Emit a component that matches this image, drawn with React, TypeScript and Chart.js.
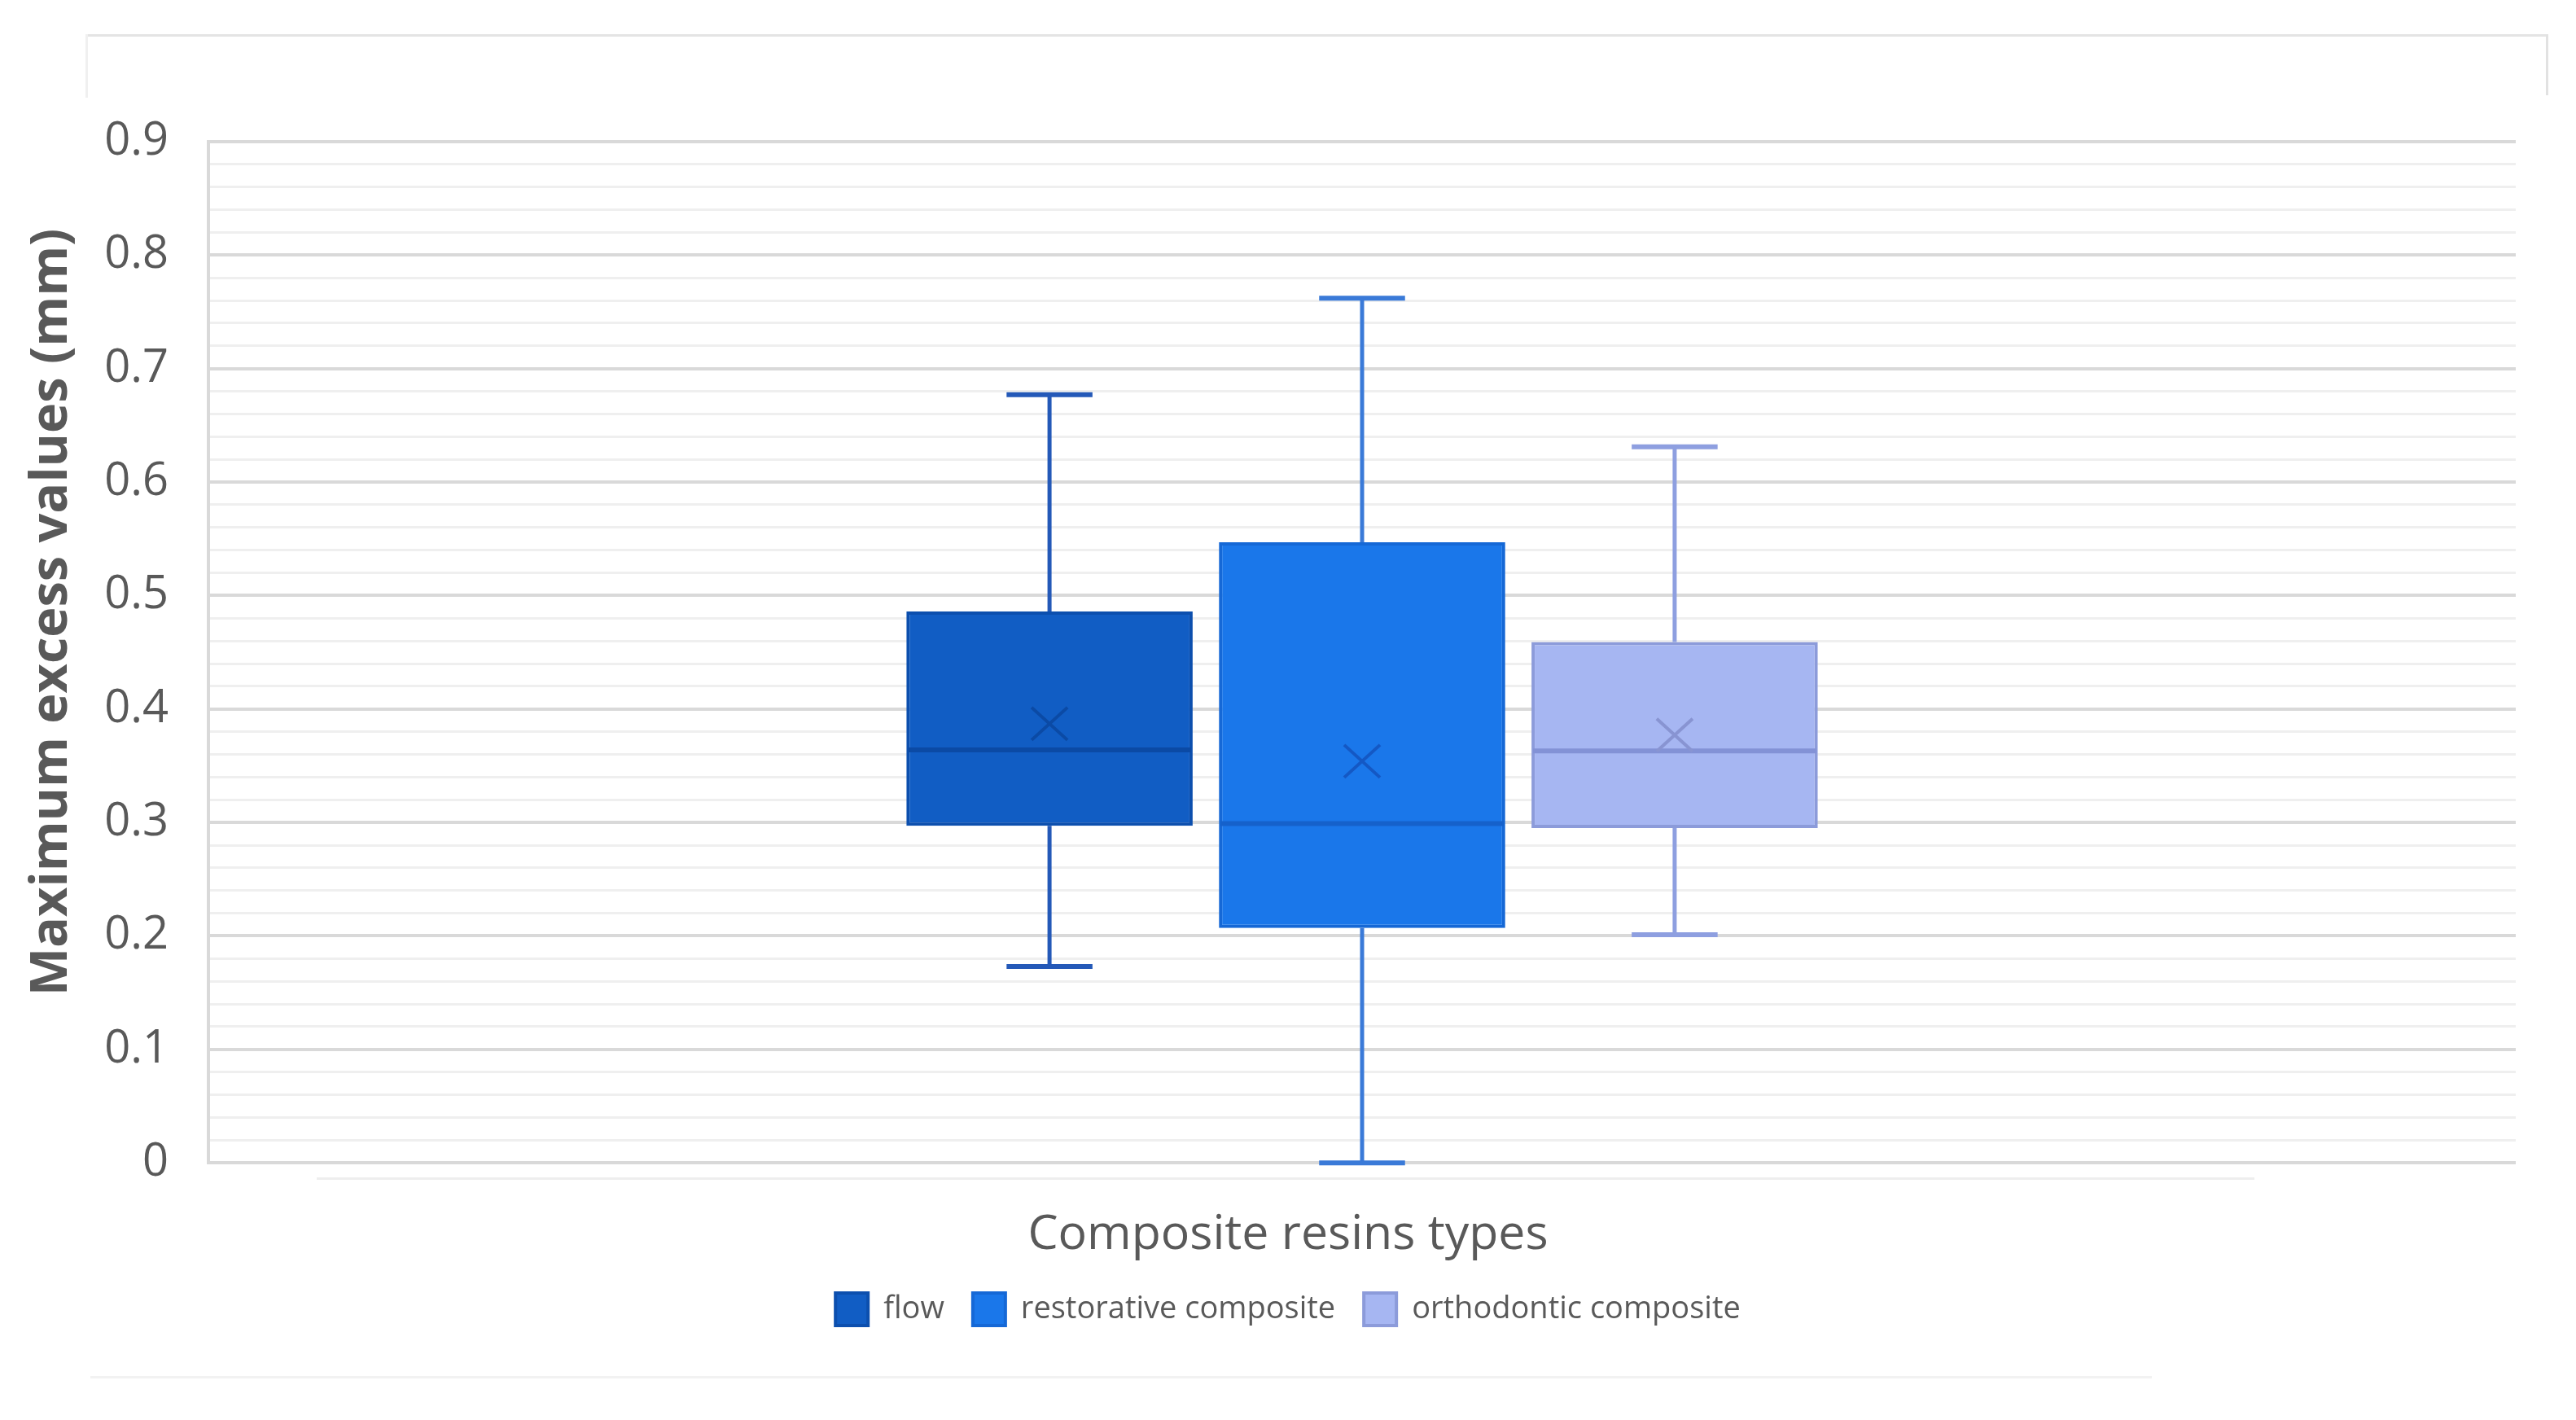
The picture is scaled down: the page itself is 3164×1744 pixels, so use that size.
import React, { useEffect, useRef } from 'react';
import { Chart, registerables } from 'chart.js';

Chart.register(...registerables);

// ---- data ----
const categories = ['flow', 'restorative composite', 'orthodontic composite'];
const minValues = [0.173, 0.0, 0.201];
const q1Values = [0.297, 0.207, 0.295];
const medianValues = [0.364, 0.299, 0.363];
const q3Values = [0.486, 0.547, 0.459];
const maxValues = [0.677, 0.762, 0.631];
const meanValues = [0.387, 0.354, 0.377];
const groupLabels = [''];
const yTickLabels = ['0', '0.1', '0.2', '0.3', '0.4', '0.5', '0.6', '0.7', '0.8', '0.9'];
const yAxisTitle = 'Maximum excess values (mm)';
const xAxisTitle = 'Composite resins types';

// ---- styles ----
const fillColors = ['#115DC4', '#1A77EA', '#A6B6F2'];
const borderColors = ['#0C4FAE', '#1568D6', '#8C9BDA'];
const medianColors = ['#0B4AA5', '#1561CB', '#8392D6'];
const whiskerColors = ['#2459B8', '#3A7AD8', '#8E9FE0'];
const meanColors = ['#0B4AA5', '#1458C4', '#8894D2'];
const textColor = '#595959';

const isMajor = (v: number) => Math.abs(v * 10 - Math.round(v * 10)) < 1e-6;

const boxPlugin = {
  id: 'boxWhiskers',
  afterDatasetsDraw(chart: any) {
    const ctx = chart.ctx;
    const y = chart.scales.y;
    chart.data.datasets.forEach((_ds: any, i: number) => {
      const meta = chart.getDatasetMeta(i);
      const bar = meta.data[0];
      if (!bar) return;
      const { x, width } = bar.getProps(['x', 'width'], true);
      const capW = width * 0.3;
      const yMin = y.getPixelForValue(minValues[i]);
      const yQ1 = y.getPixelForValue(q1Values[i]);
      const yMed = y.getPixelForValue(medianValues[i]);
      const yQ3 = y.getPixelForValue(q3Values[i]);
      const yMax = y.getPixelForValue(maxValues[i]);
      const yMean = y.getPixelForValue(meanValues[i]);
      ctx.save();
      // whiskers
      ctx.strokeStyle = whiskerColors[i];
      ctx.lineWidth = 5;
      ctx.beginPath();
      ctx.moveTo(x, yQ3);
      ctx.lineTo(x, yMax);
      ctx.moveTo(x, yQ1);
      ctx.lineTo(x, yMin);
      ctx.stroke();
      ctx.lineWidth = 6;
      ctx.beginPath();
      ctx.moveTo(x - capW / 2, yMax);
      ctx.lineTo(x + capW / 2, yMax);
      ctx.moveTo(x - capW / 2, yMin);
      ctx.lineTo(x + capW / 2, yMin);
      ctx.stroke();
      // median
      ctx.strokeStyle = medianColors[i];
      ctx.lineWidth = 6;
      ctx.beginPath();
      ctx.moveTo(x - width / 2 + 2, yMed);
      ctx.lineTo(x + width / 2 - 2, yMed);
      ctx.stroke();
      // mean marker
      ctx.strokeStyle = meanColors[i];
      ctx.lineWidth = 4;
      const hx = 22;
      const hy = 20;
      ctx.beginPath();
      ctx.moveTo(x - hx, yMean - hy);
      ctx.lineTo(x + hx, yMean + hy);
      ctx.moveTo(x + hx, yMean - hy);
      ctx.lineTo(x - hx, yMean + hy);
      ctx.stroke();
      ctx.restore();
    });
  },
};

const yTitlePlugin = {
  id: 'yTitle',
  afterDraw(chart: any) {
    const ctx = chart.ctx;
    ctx.save();
    ctx.translate(64, 752);
    ctx.rotate(-Math.PI / 2);
    ctx.font = 'bold 63px "Open Sans"';
    ctx.fillStyle = textColor;
    ctx.textAlign = 'center';
    ctx.textBaseline = 'middle';
    ctx.fillText(yAxisTitle, 0, 0);
    ctx.restore();
  },
};

export default function App() {
  const canvasRef = useRef<HTMLCanvasElement | null>(null);

  useEffect(() => {
    if (!canvasRef.current) return;
    const datasets = categories.map((name, i) => ({
      label: name,
      data: [[q1Values[i], q3Values[i]]],
      backgroundColor: fillColors[i],
      borderColor: borderColors[i],
      borderWidth: 4,
      borderSkipped: false,
      categoryPercentage: 0.4064,
      barPercentage: 0.916,
    }));
    const chart = new Chart(canvasRef.current, {
      type: 'bar',
      data: { labels: groupLabels, datasets: datasets as any },
      options: {
        responsive: false,
        animation: false,
        devicePixelRatio: 1,
        font: { family: 'Open Sans' },
        layout: { padding: { top: 174, left: 0, right: 0, bottom: 106 } },
        scales: {
          x: { display: false },
          y: {
            min: 0,
            max: 0.9,
            afterFit: (s: any) => {
              s.width = 256;
            },
            ticks: {
              stepSize: 0.02,
              autoSkip: false,
              padding: 49,
              color: textColor,
              font: { family: 'Open Sans', size: 56 },
              callback: (v: any) => {
                const n = Number(v);
                if (!isMajor(n)) return '';
                return yTickLabels[Math.round(n * 10)];
              },
            },
            grid: {
              drawTicks: false,
              color: (c: any) => (c.tick && isMajor(c.tick.value) ? '#d9d9d9' : '#efefef'),
              lineWidth: (c: any) => (c.tick && isMajor(c.tick.value) ? 4 : 3),
            },
            border: { display: true, color: '#d9d9d9', width: 4 },
          },
          yRight: {
            type: 'linear',
            position: 'right',
            display: true,
            afterFit: (s: any) => {
              s.width = 74;
            },
            ticks: { display: false },
            grid: { display: false, drawTicks: false },
            border: { display: false },
          },
        },
        plugins: {
          tooltip: { enabled: false },
          title: {
            display: true,
            text: xAxisTitle,
            position: 'bottom',
            weight: 500,
            fullSize: true,
            color: textColor,
            font: { family: 'Open Sans', size: 59, weight: 'normal' },
            padding: { top: 54, bottom: 0 },
          } as any,
          legend: {
            display: true,
            position: 'bottom',
            labels: {
              color: textColor,
              font: { family: 'Open Sans', size: 38 },
              boxWidth: 40,
              boxHeight: 40,
              padding: 35,
            },
          },
        },
      } as any,
      plugins: [boxPlugin, yTitlePlugin],
    });
    return () => chart.destroy();
  }, []);

  const line = (left: number, top: number, width: number, height: number, color: string) => (
    <div style={{ position: 'absolute', left, top, width, height, background: color }} />
  );

  return (
    <div
      style={{
        position: 'fixed',
        left: 0,
        top: 0,
        width: 3164,
        height: 1744,
        background: '#ffffff',
        overflow: 'hidden',
      }}
    >
      {line(105, 42, 3024, 3, '#e4e4e4')}
      {line(105, 42, 3, 78, '#f0f0f0')}
      {line(3127, 42, 3, 75, '#e2e2e2')}
      {line(389, 1446, 2380, 3, '#eeeeee')}
      {line(111, 1690, 2532, 3, '#f2f2f2')}
      <canvas
        ref={canvasRef}
        width={3164}
        height={1744}
        style={{ position: 'absolute', left: 0, top: 0, width: 3164, height: 1744 }}
      />
    </div>
  );
}
